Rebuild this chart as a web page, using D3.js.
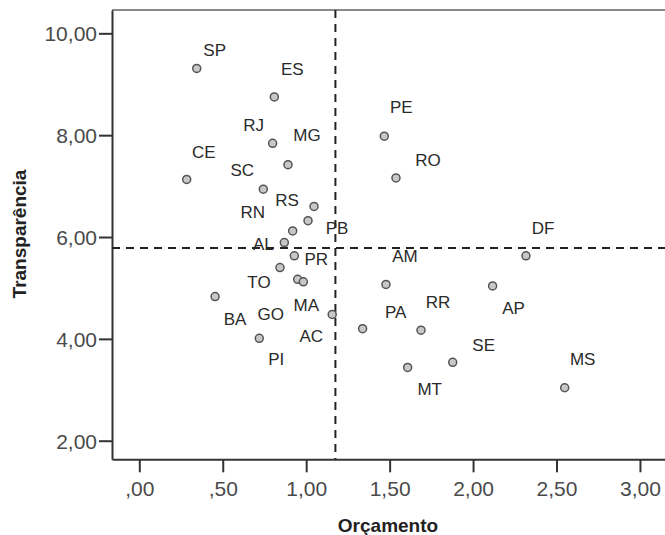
<!DOCTYPE html>
<html><head><meta charset="utf-8">
<script src="https://cdn.jsdelivr.net/npm/d3@7"></script>
<style>
html,body{margin:0;padding:0;background:#fff;}
svg{display:block;font-family:"Liberation Sans",Arial,sans-serif;}
</style></head>
<body>
<svg id="chart" width="665" height="535"></svg>
<script>
// Data
const states = ["SP","ES","RJ","MG","CE","SC","RS","PB","RN","AL","PR","TO","GO","MA","BA","AC","PI","AM","DF","AP","PA","RR","MT","SE","MS","PE","RO"];
const orcamento = [0.344,0.809,0.799,0.891,0.284,0.743,1.047,1.011,0.919,0.869,0.929,0.843,0.949,0.983,0.454,1.156,0.719,1.478,2.317,2.117,1.338,1.688,1.608,1.878,2.549,1.468,1.538];
const transparencia = [9.31,8.75,7.84,7.42,7.13,6.94,6.60,6.32,6.12,5.89,5.63,5.40,5.17,5.12,4.83,4.48,4.01,5.07,5.63,5.04,4.20,4.17,3.44,3.54,3.04,7.98,7.16];
const xTicks = [0,0.5,1,1.5,2,2.5,3];
const yTicks = [2,4,6,8,10];
// label placement relative to its point (px, text centre)
const labelDX = [18,18,-19,19,17,-21,-27,29,-40,-21,22,-21,-27,3,20,-21,17,19,17,21,33,17,22,31,18,17,32];
const labelDY = [-18,-28,-18,-30,-27,-19,-6,7,-19,1,3,14,35,23,22,22,21,-28,-28,22,-17,-28,22,-17,-29,-29,-18];

const data = states.map((s,i)=>({s, x:orcamento[i], y:transparencia[i], dx:labelDX[i], dy:labelDY[i]}));

const svg = d3.select("#chart");
const L=112, R=673, T=10, B=459.3;
const x = d3.scaleLinear().domain([-0.1636,3.198]).range([L,R]);
const y = d3.scaleLinear().domain([1.635,10.458]).range([B,T]);

const fmt = v => d3.format(".2f")(v).replace(".",",").replace(/^0,/,",");

// frame: top (grey)
svg.append("line").attr("x1",L).attr("x2",R).attr("y1",T).attr("y2",T)
  .attr("stroke","#8a8a8a").attr("stroke-width",2);

// axes
const xAxis = d3.axisBottom(x).tickValues(xTicks).tickFormat(fmt).tickSize(13).tickSizeOuter(0);
const gx = svg.append("g").attr("transform",`translate(0,${B})`).call(xAxis);
const yAxis = d3.axisLeft(y).tickValues(yTicks).tickFormat(fmt).tickSize(13).tickSizeOuter(0);
const gy = svg.append("g").attr("transform",`translate(${L},0)`).call(yAxis);
[gx,gy].forEach(g=>{
  g.select(".domain").attr("stroke","#333").attr("stroke-width",2);
  g.selectAll(".tick line").attr("stroke","#333").attr("stroke-width",2);
  g.selectAll(".tick text").attr("fill","#4a4a4a").attr("font-size",21)
   .attr("font-family","'Liberation Sans',Arial,sans-serif");
});
gx.selectAll(".tick text").attr("dy","1.0em");
gy.selectAll(".tick text").attr("x",-15).attr("dy","0.36em");

// mean reference lines
const mx = d3.mean(orcamento), my = d3.mean(transparencia);
svg.append("line").attr("x1",x(mx)).attr("x2",x(mx)).attr("y1",T).attr("y2",B)
  .attr("stroke","#222").attr("stroke-width",2).attr("stroke-dasharray","8,6");
svg.append("line").attr("x1",L).attr("x2",R).attr("y1",y(my)).attr("y2",y(my))
  .attr("stroke","#222").attr("stroke-width",2).attr("stroke-dasharray","8,6");

// points
svg.append("g").selectAll("circle").data(data).join("circle")
  .attr("cx",d=>x(d.x)).attr("cy",d=>y(d.y)).attr("r",4)
  .attr("fill","#c8c8c8").attr("stroke","#555").attr("stroke-width",1.5);

// labels
svg.append("g").selectAll("text").data(data).join("text")
  .attr("x",d=>x(d.x)+d.dx).attr("y",d=>y(d.y)+d.dy+6)
  .attr("text-anchor","middle").attr("font-size",17).attr("fill","#2a2a2a")
  .text(d=>d.s);

// axis titles
svg.append("text").attr("x",388).attr("y",532).attr("text-anchor","middle")
  .attr("font-size",19).attr("font-weight","bold").attr("fill","#222").text("Orçamento");
svg.append("text").attr("transform","translate(26,234) rotate(-90)").attr("text-anchor","middle")
  .attr("font-size",19).attr("font-weight","bold").attr("fill","#222").text("Transparência");
</script>
</body></html>
